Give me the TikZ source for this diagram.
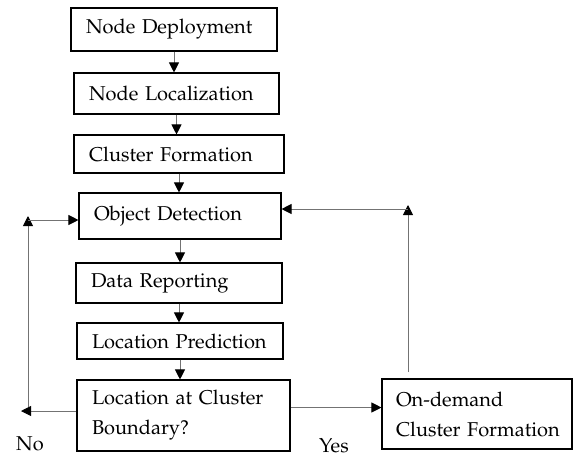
\documentclass[tikz,border=0pt]{standalone}
\usepackage[T1]{fontenc}
\usepackage{mathpazo}
\usetikzlibrary{positioning,calc,arrows.meta}

\begin{document}
\begin{tikzpicture}[x=1pt, y=-1pt, font=\fontsize{20}{30}\selectfont,
    stage/.style={draw, line width=1.1pt, align=left, inner xsep=15pt, inner ysep=0pt},
    flow/.style={draw=black!55, line width=0.9pt,
      -{Triangle[length=10pt, width=10pt, color=black]}}]
        \useasboundingbox (0,0) rectangle (573,459);
        \node[stage, text width=176pt, minimum height=43pt] (deploy) at (174,29.5) {Node Deployment};
        \node[stage, text width=175pt, minimum height=41pt] (local) at (176.5,93.5) {Node Localization};
        \node[stage, text width=180pt, minimum height=38pt] (cluster) at (179,154) {Cluster Formation};
        \node[stage, text width=172pt, minimum height=46pt] (detect) at (180,216) {Object Detection};
        \node[stage, text width=176pt, minimum height=40pt] (report) at (179,283) {Data Reporting};
        \node[stage, text width=176pt, minimum height=36pt] (predict) at (180,341) {Location Prediction};
        \node[stage, text width=183pt, minimum height=71pt] (boundary) at (183.5,415.5)
          {\mbox{Location at Cluster}\\Boundary?};
        \node[stage, text width=162pt, inner xsep=14pt, minimum height=70pt] (ondemand) at (477,414)
          {On-demand\\\mbox{Cluster Formation}};
        \node[inner sep=0pt] (no) at (30,444) {No};
        \node[inner sep=0pt] (yes) at (334,446) {Yes};
        % main chain
        \draw[flow] (deploy.south) -- (deploy.south |- local.north);
        \draw[flow] (local.south) -- (local.south |- cluster.north);
        \draw[flow] (cluster.south) -- (cluster.south |- detect.north);
        \draw[flow] (detect.south) -- (detect.south |- report.north);
        \draw[flow] (report.south) -- (report.south |- predict.north);
        \draw[flow] (predict.south) -- (predict.south |- boundary.north);
        % no branch
        \coordinate (noEnd) at (21,411);
        \coordinate (loopBot) at (28,407);
        \coordinate (loopTop) at (28,216);
        \coordinate (loopIn) at (28,220);
        \draw[flow] (boundary.west |- noEnd) -- (noEnd);
        \draw[flow] (loopBot) -- (loopTop);
        \draw[flow] (loopIn) -- (loopIn -| detect.west);
        % yes branch
        \coordinate (retBot) at (408,372);
        \coordinate (retTop) at (408,205);
        \coordinate (retIn) at (408,209);
        \draw[flow] ([yshift=8pt]boundary.east) -- ([yshift=8pt]boundary.east -| ondemand.west);
        \draw[flow] (retBot) -- (retTop);
        \draw[flow] (retIn) -- (retIn -| detect.east);
      \end{tikzpicture}
\end{document}
